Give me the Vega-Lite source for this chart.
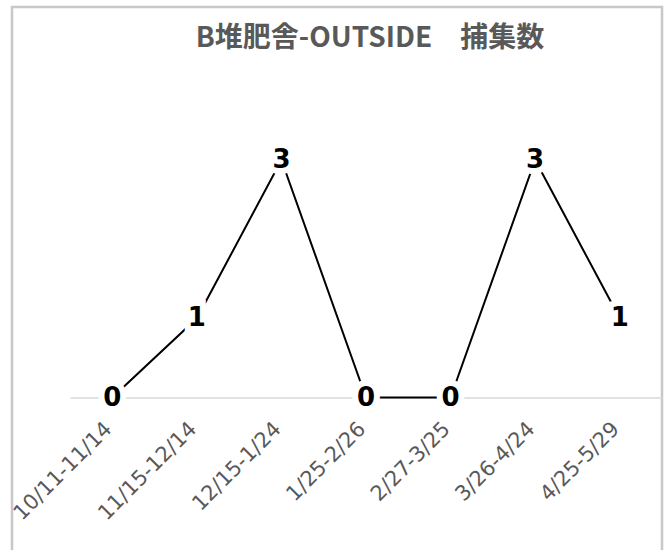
{
  "$schema": "https://vega.github.io/schema/vega-lite/v6.json",
  "autosize": {"type": "none"},
  "padding": {"left": 12, "top": 7, "right": 10, "bottom": -5},
  "width": 650,
  "height": 548,
  "background": "white",
  "config": {
    "view": {"stroke": "#c8c8c8", "strokeWidth": 2.5},
    "font": "DejaVu Sans"
  },
  "title": {
    "text": "B堆肥舎-OUTSIDE　捕集数",
    "font": "Noto Sans CJK JP",
    "fontSize": 28,
    "fontWeight": "bold",
    "color": "#595959",
    "anchor": "middle",
    "offset": -46,
    "dx": 33
  },
  "data": {
    "values": [
      {"period": "10/11-11/14", "count": 0},
      {"period": "11/15-12/14", "count": 1},
      {"period": "12/15-1/24", "count": 3},
      {"period": "1/25-2/26", "count": 0},
      {"period": "2/27-3/25", "count": 0},
      {"period": "3/26-4/24", "count": 3},
      {"period": "4/25-5/29", "count": 1}
    ]
  },
  "encoding": {
    "x": {
      "field": "period",
      "type": "ordinal",
      "sort": null,
      "scale": {"type": "point", "range": [58, 650], "padding": 0.5},
      "axis": {
        "title": null,
        "orient": "bottom",
        "offset": -157.5,
        "ticks": false,
        "grid": false,
        "domainColor": "#d9d9d9",
        "domainWidth": 1.5,
        "labelAngle": -45,
        "labelAlign": "right",
        "labelBaseline": "middle",
        "labelPadding": 28,
        "labelOffset": -4,
        "labelColor": "#595959",
        "labelFontSize": 21,
        "labelFont": "DejaVu Sans"
      }
    },
    "y": {
      "field": "count",
      "type": "quantitative",
      "scale": {"domain": [-1.9894, 4.9326], "nice": false, "zero": false},
      "axis": null
    }
  },
  "layer": [
    {"mark": {"type": "line", "color": "black", "strokeWidth": 2}},
    {
      "mark": {"type": "text", "font": "DejaVu Sans", "fontSize": 26, "fontWeight": "bold", "align": "center", "baseline": "middle", "fill": "white", "stroke": "white", "strokeWidth": 12},
      "encoding": {"text": {"field": "count", "type": "quantitative"}}
    },
    {
      "mark": {"type": "text", "font": "DejaVu Sans", "fontSize": 26, "fontWeight": "bold", "align": "center", "baseline": "middle", "color": "black"},
      "encoding": {"text": {"field": "count", "type": "quantitative"}}
    }
  ]
}
